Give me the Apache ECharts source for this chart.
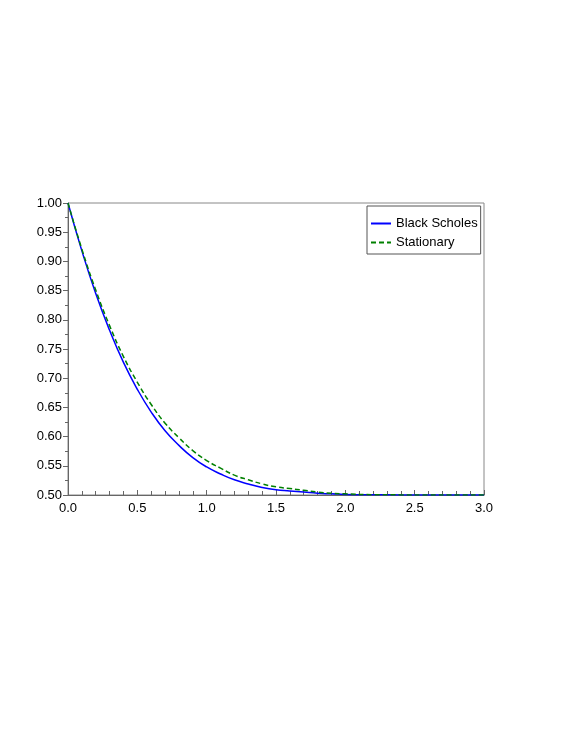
<!DOCTYPE html>
<html>
<head>
<meta charset="utf-8">
<script src="https://cdn.jsdelivr.net/npm/echarts@6/dist/echarts.min.js"></script>
<style>
  html, body { margin: 0; padding: 0; background: #fff; }
  #chart { width: 564px; height: 729px; }
</style>
</head>
<body>
<div id="chart"></div>
<script>
// time points (shared by both curves)
const tValues = [0, 0.1, 0.2, 0.3, 0.4, 0.5, 0.6, 0.7, 0.8, 0.9, 1.0,
  1.1, 1.2, 1.3, 1.4, 1.5, 1.6, 1.7, 1.8, 1.9, 2.0,
  2.2, 2.4, 2.6, 2.8, 3.0]

// Black Scholes
const blackScholes = [1.0, 0.918, 0.845, 0.782, 0.727, 0.681, 0.642, 0.610, 0.585, 0.564, 0.548,
  0.536, 0.526, 0.519, 0.513, 0.509, 0.507, 0.505, 0.503, 0.502, 0.501,
  0.5005, 0.5002, 0.5, 0.5, 0.5]

// Stationary
const stationary = [1.0, 0.921, 0.851, 0.790, 0.737, 0.693, 0.655, 0.623, 0.598, 0.576, 0.559,
  0.546, 0.534, 0.526, 0.519, 0.514, 0.511, 0.508, 0.505, 0.503, 0.502,
  0.5005, 0.5002, 0.5, 0.5, 0.5]

const pairs = (ys) => tValues.map((t, i) => [t, ys[i]])

const chart = echarts.init(document.getElementById('chart'))
const font = 'Liberation Sans, Arial, sans-serif'
const axisColor = '#666'

chart.setOption({
  animation: false,
  backgroundColor: '#fff',
  grid: {
    left: 68, right: 80, top: 203, bottom: 234,
    show: true, borderColor: '#888', borderWidth: 1
  },
  legend: {
    orient: 'vertical',
    left: 367,
    top: 206,
    padding: [11, 3, 5, 3],
    itemGap: 6,
    itemWidth: 20,
    itemHeight: 10,
    borderColor: '#555',
    borderWidth: 1,
    itemStyle: { opacity: 0 },
    textStyle: { fontFamily: font, fontSize: 13, color: '#000' },
    data: ['Black Scholes', 'Stationary']
  },
  xAxis: {
    type: 'value',
    min: 0, max: 3, interval: 0.5,
    axisLine: { lineStyle: { color: axisColor } },
    axisTick: { inside: true, length: 5, lineStyle: { color: axisColor } },
    minorTick: { show: true, splitNumber: 5, length: 4, lineStyle: { color: axisColor } },
    splitLine: { show: false },
    axisLabel: {
      margin: 7, fontFamily: font, fontSize: 13, color: '#000',
      formatter: (v) => v.toFixed(1)
    }
  },
  yAxis: {
    type: 'value',
    min: 0.5, max: 1.0, interval: 0.05,
    axisLine: { show: true, lineStyle: { color: axisColor } },
    axisTick: { show: true, length: 5, lineStyle: { color: axisColor } },
    minorTick: { show: true, splitNumber: 2, length: 3, lineStyle: { color: axisColor } },
    splitLine: { show: false },
    axisLabel: {
      margin: 6, fontFamily: font, fontSize: 13, color: '#000',
      formatter: (v) => v.toFixed(2)
    }
  },
  series: [
    {
      name: 'Black Scholes',
      type: 'line',
      data: pairs(blackScholes),
      smooth: true,
      symbol: 'none',
      color: '#0000ff',
      lineStyle: { color: '#0000ff', width: 1.5 }
    },
    {
      name: 'Stationary',
      type: 'line',
      data: pairs(stationary),
      smooth: true,
      symbol: 'none',
      color: '#008000',
      lineStyle: { color: '#008000', width: 1.5, type: [5, 3] }
    }
  ]
})
</script>
</body>
</html>
